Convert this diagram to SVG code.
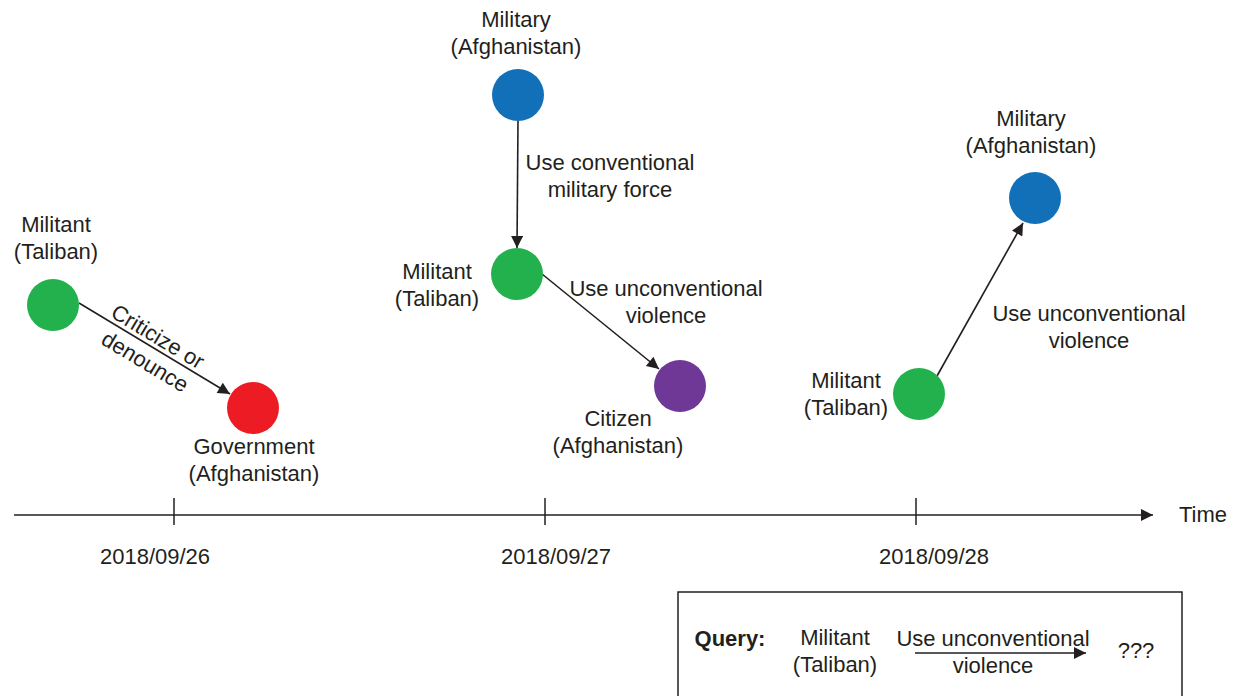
<svg xmlns="http://www.w3.org/2000/svg" width="1237" height="696" viewBox="0 0 1237 696">
<style>
text{font-family:"Liberation Sans",Arial,sans-serif;font-size:22px;fill:#231f20;text-anchor:middle}
.edge{stroke:#231f20;stroke-width:1.6;fill:none}
.axis{stroke:#231f20;stroke-width:1.5;fill:none}
.g{fill:#22b14c}.r{fill:#ed1c24}.b{fill:#1170b8}.p{fill:#6f3896}
</style>
<defs>
<marker id="ahL" viewBox="0 0 10 10" refX="10" refY="5" markerWidth="14" markerHeight="12" markerUnits="userSpaceOnUse" orient="auto">
<path d="M0,0 L10,5 L0,10 z" fill="#231f20"/>
</marker>
</defs>
<rect width="1237" height="696" fill="#fff"/>
<g id="connectors">
<line class="edge" x1="79" y1="303" x2="230" y2="394" marker-end="url(#ahL)"/>
<line class="edge" x1="518" y1="121" x2="517" y2="248" marker-end="url(#ahL)"/>
<line class="edge" x1="542" y1="274" x2="659" y2="369" marker-end="url(#ahL)"/>
<line class="edge" x1="937" y1="376" x2="1023" y2="223" marker-end="url(#ahL)"/>
<g transform="translate(151,346) rotate(31)">
<text x="1" y="-4">Criticize or</text>
<text x="3" y="24">denounce</text>
</g>
<text x="610" y="170">Use conventional</text>
<text x="610" y="197">military force</text>
<text x="666" y="296">Use unconventional</text>
<text x="666" y="323">violence</text>
<text x="1089" y="321">Use unconventional</text>
<text x="1089" y="348">violence</text>
</g>
<g id="n1"><circle class="g" cx="53" cy="305" r="26"/><text x="56" y="232">Militant</text><text x="56" y="259">(Taliban)</text></g>
<g id="n2"><circle class="r" cx="253" cy="408" r="26"/><text x="254" y="454">Government</text><text x="254" y="481">(Afghanistan)</text></g>
<g id="n3"><circle class="b" cx="518" cy="95" r="26"/><text x="516" y="27">Military</text><text x="516" y="54">(Afghanistan)</text></g>
<g id="n4"><circle class="g" cx="517" cy="274" r="26"/><text x="437" y="279">Militant</text><text x="437" y="306">(Taliban)</text></g>
<g id="n5"><circle class="p" cx="680" cy="386" r="26"/><text x="618" y="426">Citizen</text><text x="618" y="453">(Afghanistan)</text></g>
<g id="n6"><circle class="g" cx="919" cy="394" r="26"/><text x="846" y="388">Militant</text><text x="846" y="415">(Taliban)</text></g>
<g id="n7"><circle class="b" cx="1035" cy="198" r="26"/><text x="1031" y="126">Military</text><text x="1031" y="153">(Afghanistan)</text></g>
<g id="timeline">
<line class="axis" x1="14" y1="515" x2="1153" y2="515" marker-end="url(#ahL)"/>
<line class="axis" x1="174" y1="498" x2="174" y2="525" stroke-width="1.2"/>
<line class="axis" x1="545" y1="498" x2="545" y2="525" stroke-width="1.2"/>
<line class="axis" x1="916" y1="498" x2="916" y2="525" stroke-width="1.2"/>
<text x="1203" y="522">Time</text>
<text x="155" y="564">2018/09/26</text>
<text x="556" y="564">2018/09/27</text>
<text x="934" y="564">2018/09/28</text>
</g>
<g id="query">
<rect x="678" y="592" width="504" height="120" fill="none" stroke="#231f20" stroke-width="1.5"/>
<text x="730" y="646" font-weight="bold">Query:</text>
<text x="835" y="645">Militant</text>
<text x="835" y="672">(Taliban)</text>
<line class="edge" x1="915" y1="653" x2="1086" y2="653" marker-end="url(#ahL)"/>
<text x="993" y="646">Use unconventional</text>
<text x="993" y="673">violence</text>
<text x="1136" y="658">???</text>
</g>
</svg>
